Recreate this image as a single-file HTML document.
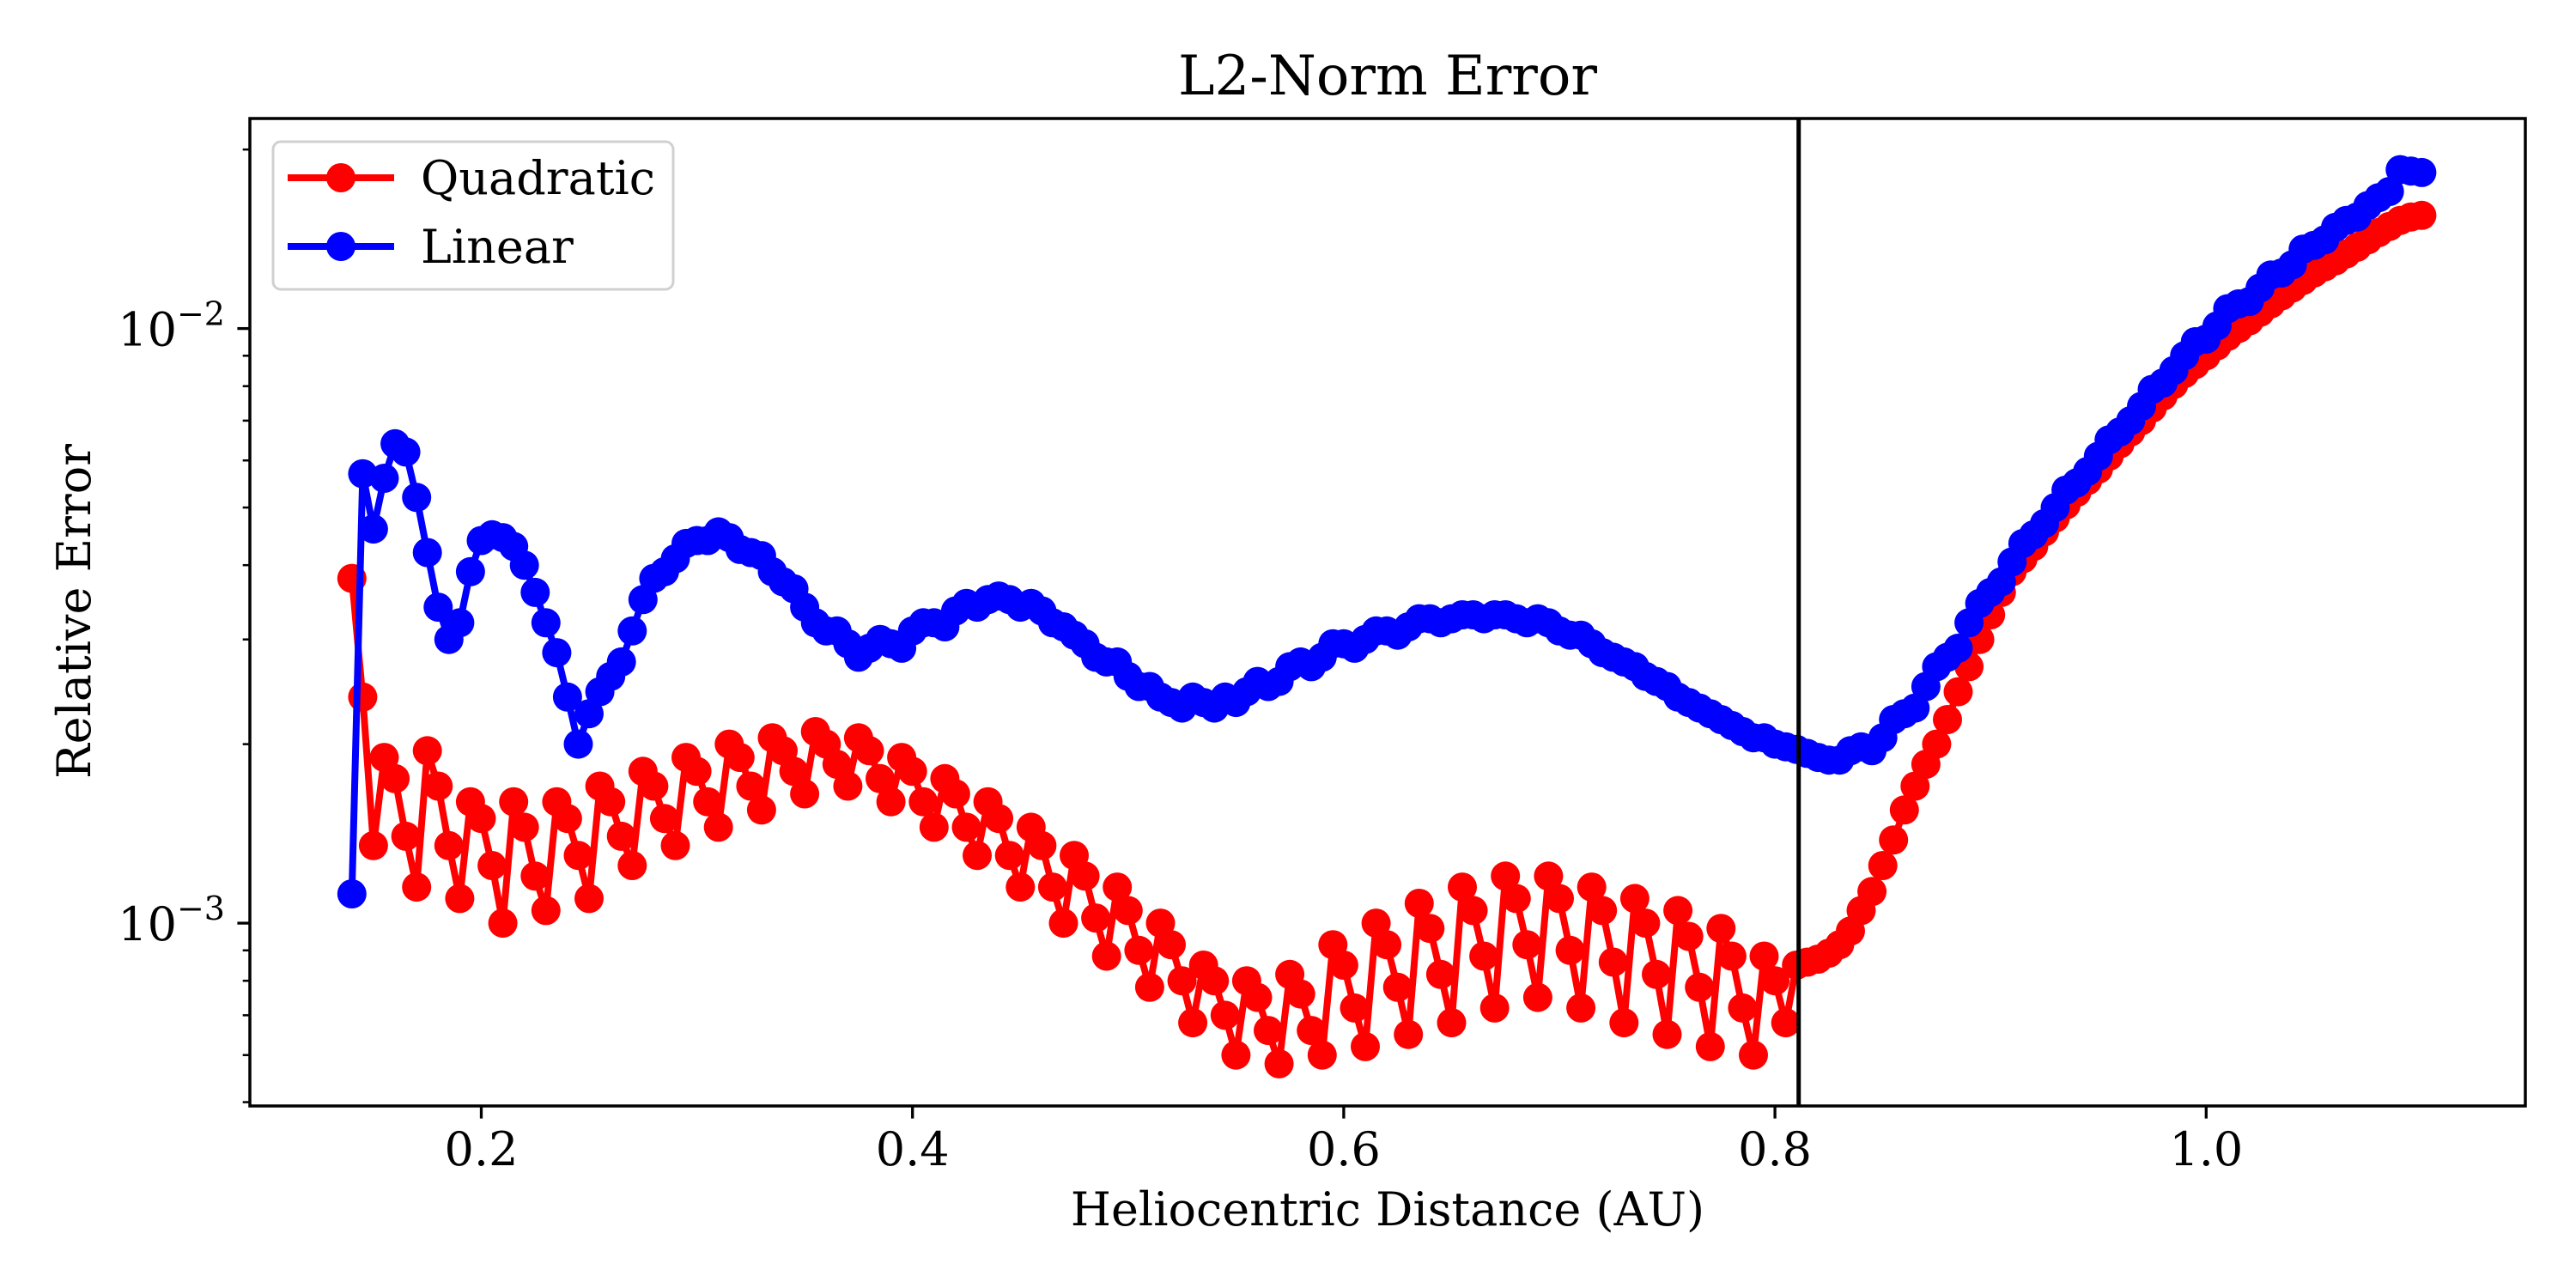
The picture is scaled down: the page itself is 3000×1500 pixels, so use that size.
<!DOCTYPE html>
<html><head><meta charset="utf-8"><style>
html,body{margin:0;padding:0;background:#fff;}
svg{display:block;font-family:"DejaVu Serif","Liberation Serif",serif;}
</style></head><body>
<svg id="chart" width="3000" height="1500" viewBox="0 0 3000 1500" xmlns="http://www.w3.org/2000/svg">
<rect x="0" y="0" width="3000" height="1500" fill="#fff"/>
<defs><clipPath id="plotclip"><rect x="291" y="138" width="2650" height="1150"/></clipPath></defs>
<g id="ticks"></g>
<g id="series" clip-path="url(#plotclip)"></g>
<rect x="291" y="138" width="2650" height="1150" fill="none" stroke="#000" stroke-width="3.5"/>
<text x="1616" y="110" font-size="64" text-anchor="middle">L2-Norm Error</text>
<text x="1616" y="1427" font-size="54" text-anchor="middle">Heliocentric Distance (AU)</text>
<text x="0" y="0" font-size="54" text-anchor="middle" transform="translate(105,712) rotate(-90)">Relative Error</text>
<g>
<rect x="318" y="165" width="466" height="172" rx="9" fill="#fff" fill-opacity="0.8" stroke="#d0d0d0" stroke-width="3"/>
<g>
<line x1="335" y1="207" x2="459" y2="207" stroke="#f00" stroke-width="8"/>
<circle cx="397" cy="207" r="17" fill="#f00"/>
<text x="490" y="226" font-size="54">Quadratic</text>
</g>
<g>
<line x1="335" y1="287" x2="459" y2="287" stroke="#00f" stroke-width="8"/>
<circle cx="397" cy="287" r="17" fill="#00f"/>
<text x="490" y="306" font-size="54">Linear</text>
</g>
</g>
</svg>
<script>
const xs = [
0.14,0.145,0.15,0.155,0.16,0.165,0.17,0.175,0.18,0.185,
0.19,0.195,0.2,0.205,0.21,0.215,0.22,0.225,0.23,0.235,
0.24,0.245,0.25,0.255,0.26,0.265,0.27,0.275,0.28,0.285,
0.29,0.295,0.3,0.305,0.31,0.315,0.32,0.325,0.33,0.335,
0.34,0.345,0.35,0.355,0.36,0.365,0.37,0.375,0.38,0.385,
0.39,0.395,0.4,0.405,0.41,0.415,0.42,0.425,0.43,0.435,
0.44,0.445,0.45,0.455,0.46,0.465,0.47,0.475,0.48,0.485,
0.49,0.495,0.5,0.505,0.51,0.515,0.52,0.525,0.53,0.535,
0.54,0.545,0.55,0.555,0.56,0.565,0.57,0.575,0.58,0.585,
0.59,0.595,0.6,0.605,0.61,0.615,0.62,0.625,0.63,0.635,
0.64,0.645,0.65,0.655,0.66,0.665,0.67,0.675,0.68,0.685,
0.69,0.695,0.7,0.705,0.71,0.715,0.72,0.725,0.73,0.735,
0.74,0.745,0.75,0.755,0.76,0.765,0.77,0.775,0.78,0.785,
0.79,0.795,0.8,0.805,0.81,0.815,0.82,0.825,0.83,0.835,
0.84,0.845,0.85,0.855,0.86,0.865,0.87,0.875,0.88,0.885,
0.89,0.895,0.9,0.905,0.91,0.915,0.92,0.925,0.93,0.935,
0.94,0.945,0.95,0.955,0.96,0.965,0.97,0.975,0.98,0.985,
0.99,0.995,1.0,1.005,1.01,1.015,1.02,1.025,1.03,1.035,
1.04,1.045,1.05,1.055,1.06,1.065,1.07,1.075,1.08,1.085,
1.09,1.095,1.1];
// values in units of 1e-3
const quadratic = [
3.8,2.4,1.35,1.9,1.75,1.4,1.15,1.95,1.7,1.35,
1.1,1.6,1.5,1.25,1.0,1.6,1.45,1.2,1.05,1.6,
1.5,1.3,1.1,1.7,1.6,1.4,1.25,1.8,1.7,1.5,
1.35,1.9,1.8,1.6,1.45,2.0,1.9,1.7,1.55,2.05,
1.95,1.8,1.65,2.1,2.0,1.85,1.7,2.05,1.95,1.75,
1.6,1.9,1.8,1.6,1.45,1.75,1.65,1.45,1.3,1.6,
1.5,1.3,1.15,1.45,1.35,1.15,1.0,1.3,1.2,1.02,
0.88,1.15,1.05,0.9,0.78,1.0,0.92,0.8,0.68,0.85,
0.8,0.7,0.6,0.8,0.75,0.66,0.58,0.82,0.76,0.66,
0.6,0.92,0.85,0.72,0.62,1.0,0.92,0.78,0.65,1.08,
0.98,0.82,0.68,1.15,1.05,0.88,0.72,1.2,1.1,0.92,
0.75,1.2,1.1,0.9,0.72,1.15,1.05,0.86,0.68,1.1,
1.0,0.82,0.65,1.05,0.95,0.78,0.62,0.98,0.88,0.72,
0.6,0.88,0.8,0.68,0.85,0.86,0.87,0.89,0.92,0.97,
1.05,1.13,1.25,1.38,1.55,1.7,1.85,2.0,2.2,2.45,
2.7,3.0,3.3,3.6,3.9,4.1,4.3,4.55,4.8,5.05,
5.3,5.55,5.8,6.1,6.4,6.7,7.0,7.35,7.7,8.05,
8.4,8.7,9.0,9.35,9.7,10.0,10.3,10.65,11.0,11.35,
11.7,12.05,12.4,12.7,13.0,13.35,13.7,14.1,14.5,14.85,
15.2,15.4,15.5];
const linear = [
1.12,5.7,4.6,5.6,6.4,6.2,5.2,4.2,3.4,3.0,
3.2,3.9,4.4,4.5,4.45,4.3,4.0,3.6,3.2,2.85,
2.4,2.0,2.25,2.45,2.6,2.75,3.1,3.5,3.8,3.9,
4.1,4.35,4.4,4.4,4.55,4.45,4.25,4.2,4.15,3.9,
3.75,3.65,3.4,3.2,3.1,3.1,2.95,2.8,2.9,3.0,
2.95,2.9,3.1,3.2,3.2,3.15,3.35,3.45,3.4,3.5,
3.55,3.5,3.4,3.45,3.35,3.2,3.15,3.05,2.95,2.8,
2.75,2.75,2.6,2.5,2.5,2.4,2.35,2.3,2.4,2.35,
2.3,2.4,2.35,2.45,2.55,2.5,2.55,2.7,2.75,2.7,
2.8,2.95,2.95,2.9,3.0,3.1,3.1,3.05,3.15,3.25,
3.25,3.2,3.25,3.3,3.3,3.25,3.3,3.3,3.25,3.2,
3.25,3.2,3.1,3.05,3.05,2.95,2.85,2.8,2.75,2.7,
2.6,2.55,2.5,2.4,2.35,2.3,2.25,2.2,2.15,2.1,
2.05,2.05,2.0,1.98,1.96,1.93,1.9,1.88,1.88,1.95,
1.98,1.95,2.05,2.2,2.25,2.3,2.5,2.7,2.8,2.9,
3.2,3.45,3.6,3.75,4.05,4.35,4.5,4.7,5.0,5.35,
5.5,5.75,6.1,6.5,6.7,7.0,7.4,7.9,8.1,8.5,
9.0,9.5,9.6,10.1,10.8,11.0,11.1,11.7,12.3,12.4,
12.8,13.6,13.8,14.1,14.8,15.2,15.4,16.1,16.6,17.0,
18.5,18.4,18.3];
const xTicks = [0.2, 0.4, 0.6, 0.8, 1.0];
const xTickLabels = ["0.2", "0.4", "0.6", "0.8", "1.0"];
const yMajorTicks = [-3, -2];
const yMajorExps = ["−3", "−2"];
const verticalMarker = 0.811;

const NS = "http://www.w3.org/2000/svg";
const PL = 291, PR = 2941, PT = 138, PB = 1288;
const X0 = 58.3, XS = 2511;
const Y2 = 382.6, DEC = 692.5;
function sx(x){ return X0 + XS * x; }
function sy(v){ return Y2 - (Math.log10(v * 1e-3) + 2) * DEC; }
function mk(tag, attrs){ const e = document.createElementNS(NS, tag); for (const k in attrs) e.setAttribute(k, attrs[k]); return e; }

const ticks = document.getElementById('ticks');
xTicks.forEach((t, i) => {
  const x = sx(t);
  const l = mk('line', {x1: x, y1: PB, x2: x, y2: PB + 14.6, stroke: '#000', 'stroke-width': 3.3});
  
  
  ticks.appendChild(l);
  const tx = mk('text', {x: x, y: 1357, 'font-size': 54, 'text-anchor': 'middle'});
  tx.textContent = xTickLabels[i];
  
  
  ticks.appendChild(tx);
});
yMajorTicks.forEach((e, i) => {
  const y = Y2 - (e + 2) * DEC;
  const l = mk('line', {x1: PL - 14.6, y1: y, x2: PL, y2: y, stroke: '#000', 'stroke-width': 3.3});
  
  
  ticks.appendChild(l);
  const tx = mk('text', {x: 262, y: y + 20, 'font-size': 54, 'text-anchor': 'end'});
  const a = mk('tspan', {}); a.textContent = '10';
  const b = mk('tspan', {dy: -24, 'font-size': 38}); b.textContent = yMajorExps[i];
  tx.appendChild(a); tx.appendChild(b);
  
  
  ticks.appendChild(tx);
});
for (let e = -4; e <= -2; e++) {
  for (let m = 2; m <= 9; m++) {
    const v = m * Math.pow(10, e);
    const y = Y2 - (Math.log10(v) + 2) * DEC;
    if (y < PT - 1 || y > PB + 1) continue;
    const l = mk('line', {x1: PL - 8.3, y1: y, x2: PL, y2: y, stroke: '#000', 'stroke-width': 2.5});
    
    
    ticks.appendChild(l);
  }
}

const series = document.getElementById('series');
function drawSeries(vals, color, name){
  const g = mk('g', {});
  
  
  const pts = vals.map((v, i) => sx(xs[i]).toFixed(1) + ',' + sy(v).toFixed(1)).join(' ');
  const pl = mk('polyline', {points: pts, fill: 'none', stroke: color, 'stroke-width': 8, 'stroke-linejoin': 'round'});
  
  
  g.appendChild(pl);
  vals.forEach((v, i) => {
    const c = mk('circle', {cx: sx(xs[i]).toFixed(1), cy: sy(v).toFixed(1), r: 17, fill: color});
    
    
    g.appendChild(c);
  });
  series.appendChild(g);
}
drawSeries(quadratic, '#ff0000', 'quadratic-series');
drawSeries(linear, '#0000ff', 'linear-series');
const vx = sx(verticalMarker);
const vl = mk('line', {x1: vx, y1: PT, x2: vx, y2: PB, stroke: '#000', 'stroke-width': 5});


series.appendChild(vl);
</script>
</body></html>
